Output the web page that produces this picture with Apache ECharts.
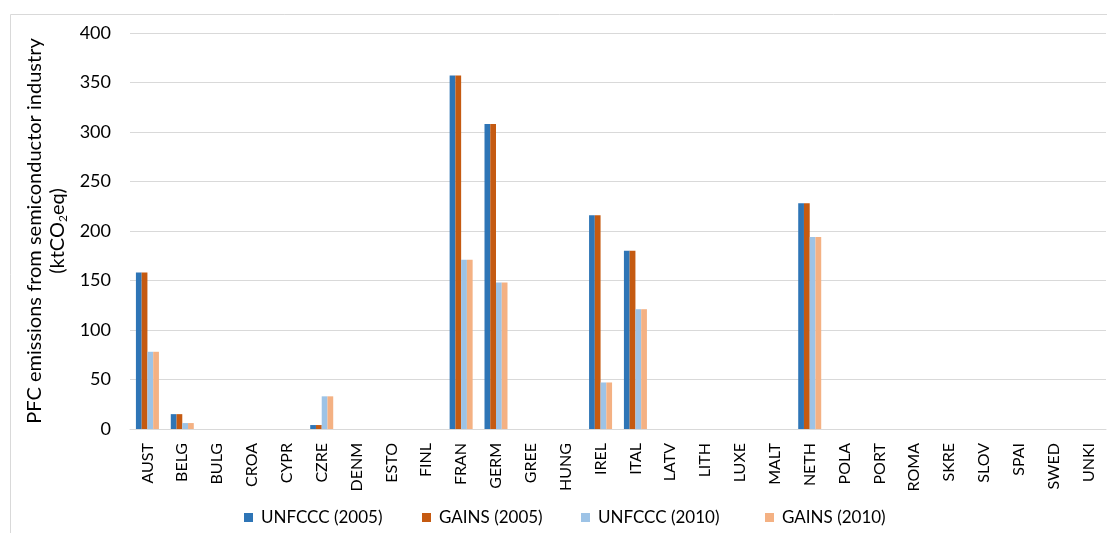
<!DOCTYPE html>
<html>
<head>
<meta charset="utf-8">
<script src="https://cdn.jsdelivr.net/npm/echarts@6/dist/echarts.min.js"></script>
<style>
  html, body { margin: 0; padding: 0; background: #fff; }
  #chart { width: 1107px; height: 533px; }
</style>
</head>
<body>
<div id="chart"></div>
<script>
// country codes along the x axis
const countries = ['AUST', 'BELG', 'BULG', 'CROA', 'CYPR', 'CZRE', 'DENM', 'ESTO', 'FINL', 'FRAN',
  'GERM', 'GREE', 'HUNG', 'IREL', 'ITAL', 'LATV', 'LITH', 'LUXE', 'MALT', 'NETH',
  'POLA', 'PORT', 'ROMA', 'SKRE', 'SLOV', 'SPAI', 'SWED', 'UNKI'];

// values (ktCO2eq)
const unfccc2005 = [158, 15, 0, 0, 0, 4, 0, 0, 0, 357, 308, 0, 0, 216, 180, 0, 0, 0, 0, 228, 0, 0, 0, 0, 0, 0, 0, 0];
const gains2005  = [158, 15, 0, 0, 0, 4, 0, 0, 0, 357, 308, 0, 0, 216, 180, 0, 0, 0, 0, 228, 0, 0, 0, 0, 0, 0, 0, 0];
const unfccc2010 = [78, 6, 0, 0, 0, 33, 0, 0, 0, 171, 148, 0, 0, 47, 121, 0, 0, 0, 0, 194, 0, 0, 0, 0, 0, 0, 0, 0];
const gains2010  = [78, 6, 0, 0, 0, 33, 0, 0, 0, 171, 148, 0, 0, 47, 121, 0, 0, 0, 0, 194, 0, 0, 0, 0, 0, 0, 0, 0];

const seriesNames = ['UNFCCC (2005)', 'GAINS (2005)', 'UNFCCC (2010)', 'GAINS (2010)'];
const colors = ['#2E75B6', '#C55A11', '#9DC3E6', '#F4B183'];

const font = 'Lato, "Open Sans", sans-serif';

var myChart = echarts.init(document.getElementById('chart'));

const allData = [unfccc2005, gains2005, unfccc2010, gains2010];

// one legend per entry so the spacing follows the original
const legendLeft = [244, 422, 581, 765];

var option = {
  animation: false,
  color: colors,
  // faint frame round the chart area
  graphic: [
    {
      type: 'rect',
      shape: { x: 10.5, y: 14.5, width: 1200, height: 600 },
      style: { fill: 'none', stroke: '#d9d9d9', lineWidth: 1 },
      silent: true,
    },
  ],
  grid: {
    left: 130,
    right: 1,
    top: 33,
    bottom: 104,
  },
  legend: seriesNames.map(function (name, i) {
    return {
      bottom: 2,
      left: legendLeft[i],
      itemWidth: 9,
      itemHeight: 9,
      icon: 'rect',
      padding: [5, 0, 5, 0],
      textStyle: { fontFamily: font, fontSize: 17, color: '#000', padding: [0, 0, 0, 3] },
      data: [name],
    };
  }),
  xAxis: {
    type: 'category',
    data: countries,
    axisLine: { show: true, lineStyle: { color: '#d9d9d9' } },
    axisTick: { show: false },
    axisLabel: {
      rotate: 90,
      interval: 0,
      fontFamily: font,
      fontSize: 16,
      color: '#000',
      margin: 14,
    },
  },
  yAxis: {
    type: 'value',
    min: 0,
    max: 400,
    interval: 50,
    name: 'PFC emissions from semiconductor industry\n(ktCO{sub|2}eq)',
    nameLocation: 'middle',
    nameGap: 57,
    nameTextStyle: {
      fontFamily: font,
      fontSize: 20,
      color: '#000',
      lineHeight: 23,
      rich: {
        sub: { fontFamily: font, fontSize: 12, color: '#000', verticalAlign: 'bottom', padding: [10, 0, 0, 0] },
      },
    },
    axisLine: { show: false },
    axisTick: { show: false },
    splitLine: { lineStyle: { color: '#d9d9d9' } },
    axisLabel: { fontFamily: font, fontSize: 18, color: '#000', margin: 19 },
  },
  series: seriesNames.map(function (name, i) {
    return {
      name: name,
      type: 'bar',
      data: allData[i],
      barGap: '0%',
      barCategoryGap: '34%',
      itemStyle: { color: colors[i] },
    };
  }),
};

myChart.setOption(option);
</script>
</body>
</html>
